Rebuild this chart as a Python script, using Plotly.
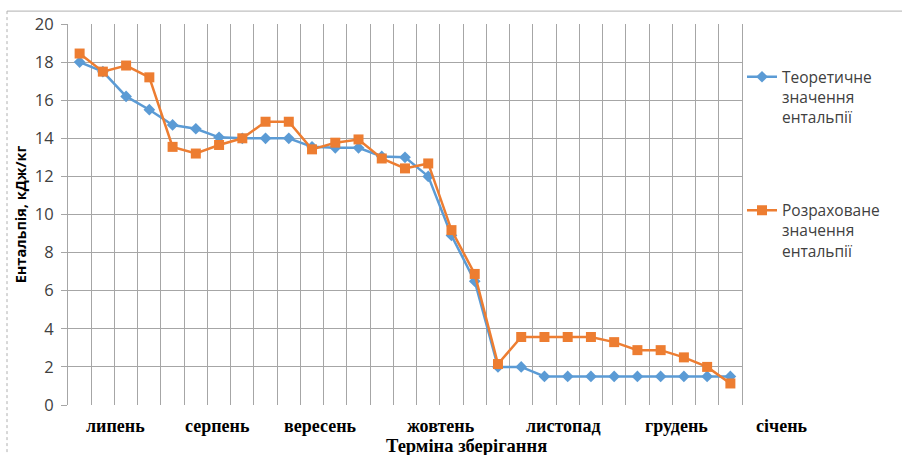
import plotly.graph_objects as go

# ---- data ----
points = list(range(1, 30))
theoretical = [18.0, 17.5, 16.2, 15.5, 14.7, 14.5, 14.05, 14.0, 14.0, 14.0,
               13.55, 13.5, 13.5, 13.05, 13.0, 12.0, 8.9, 6.5, 2.0, 2.0,
               1.5, 1.5, 1.5, 1.5, 1.5, 1.5, 1.5, 1.5, 1.5]
calculated = [18.45, 17.5, 17.82, 17.2, 13.55, 13.2, 13.65, 14.0, 14.87, 14.87,
              13.42, 13.77, 13.94, 12.94, 12.42, 12.68, 9.18, 6.88, 2.15, 3.57,
              3.57, 3.57, 3.57, 3.3, 2.88, 2.88, 2.5, 2.0, 1.13]
months = ["липень", "серпень", "вересень", "жовтень", "листопад", "грудень", "січень"]
month_pos = [2.55, 6.92, 11.34, 16.55, 21.8, 26.7, 31.2]
y_ticks = [0, 2, 4, 6, 8, 10, 12, 14, 16, 18, 20]
series_names = ["Теоретичне<br>значення<br>ентальпії", "Розраховане<br>значення<br>ентальпії"]
x_title = "Терміна зберігання"
y_title = "Ентальпія, кДж/кг"

BLUE = "#5B9BD5"
ORANGE = "#ED7D31"
GRID = "#A6A6A6"
N = len(points)

fig = go.Figure()
fig.add_trace(go.Scatter(
    x=points, y=theoretical, mode="lines+markers", name=series_names[0],
    legendgroup="a",
    line=dict(color=BLUE, width=2.5),
    marker=dict(symbol="diamond", size=9, color=BLUE),
))
fig.add_trace(go.Scatter(
    x=points, y=calculated, mode="lines+markers", name=series_names[1],
    legendgroup="b",
    line=dict(color=ORANGE, width=2.5),
    marker=dict(symbol="square", size=10, color=ORANGE),
))

annotations = []
for m, p in zip(months, month_pos):
    annotations.append(dict(
        x=(p - 0.5) / N, y=-(426 - 405) / 384, xref="paper", yref="paper",
        text="<b>" + m + "</b>", showarrow=False,
        xanchor="center", yanchor="middle",
        font=dict(family="Liberation Serif", size=18, color="#000000"),
    ))
annotations.append(dict(
    x=(467 - 68) / 674, y=-(446 - 405) / 384, xref="paper", yref="paper",
    text="<b>" + x_title + "</b>",
    showarrow=False, xanchor="center", yanchor="middle",
    font=dict(family="Liberation Serif", size=18.5, color="#000000"),
))

fig.update_layout(
    width=902, height=455,
    margin=dict(l=68, r=160, t=21, b=50),
    paper_bgcolor="white", plot_bgcolor="white",
    showlegend=True,
    legend=dict(
        x=1.0, y=0.905, xanchor="left", yanchor="top",
        font=dict(family="Open Sans", size=15.5, color="#404040"),
        tracegroupgap=70, valign="top", bgcolor="rgba(0,0,0,0)",
    ),
    xaxis=dict(
        range=[0.5, N + 0.5],
        tickvals=[i + 0.5 for i in range(0, N + 1)],
        showticklabels=False, ticks="",
        showgrid=True, gridcolor=GRID, gridwidth=1,
        zeroline=False, showline=False,
    ),
    yaxis=dict(
        range=[0, 20], tickvals=y_ticks,
        showgrid=True, gridcolor=GRID, gridwidth=1,
        ticks="outside", ticklen=6, tickcolor=GRID,
        ticklabelstandoff=4,
        showline=True, linecolor=GRID, linewidth=1, mirror=True,
        zeroline=False,
        tickfont=dict(family="Open Sans", size=16.5, color="#404040"),
        title=dict(text="<b>" + y_title + "</b>", standoff=4,
                   font=dict(family="Open Sans", size=14.5, color="#000000")),
    ),
    annotations=annotations,
    shapes=[
        dict(type="line", xref="paper", yref="paper",
             x0=(7 - 68) / 674, x1=(902 - 68) / 674,
             y0=1 + (21 - 8) / 384, y1=1 + (21 - 8) / 384,
             line=dict(color="#B0B0B0", width=1)),
        dict(type="line", xref="paper", yref="paper",
             x0=(7 - 68) / 674, x1=(7 - 68) / 674,
             y0=1 + (21 - 8) / 384, y1=-(455 - 405) / 384,
             line=dict(color="#B0B0B0", width=1, dash="dot")),
    ],
)

fig.write_html("out.html", config={"displayModeBar": False},
               post_script="document.body.style.margin='0px';")
